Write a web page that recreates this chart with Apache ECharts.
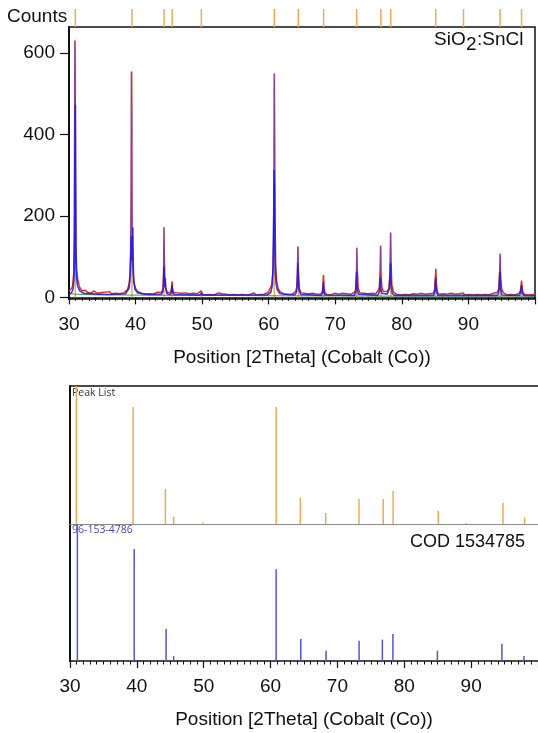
<!DOCTYPE html>
<html>
<head>
<meta charset="utf-8">
<script src="https://cdn.jsdelivr.net/npm/echarts@6/dist/echarts.min.js"></script>
<style>
  body { margin: 0; background: #fff; }
  #xrd { width: 538px; height: 733px; }
</style>
</head>
<body>
<div id="xrd"></div>
<script>
// peak positions (2theta) from the peak list
const peakPos = [30.95, 39.45, 44.27, 45.5, 49.88, 60.84, 64.45, 68.24, 73.22, 76.85, 78.33, 85.08, 89.26, 94.76, 97.98]
// measured peak heights (counts) in the top plot
const peakCounts = [633, 555, 172, 39, 16, 548, 125, 55, 122, 127, 159, 70, 11, 107, 41]
// relative intensities of the peak list panel
const peakRel = [100, 84.8, 25.4, 5.3, 1.1, 84.8, 18.8, 8, 18.1, 18.1, 23.9, 9.4, 0.7, 15.4, 4.6]
// reference pattern COD 1534785
const codPos = [31.1, 39.6, 44.37, 45.5, 50.0, 60.83, 64.52, 68.3, 73.24, 76.72, 78.3, 84.95, 94.6, 97.9]
const codRel = [100, 81.8, 23.4, 3.6, 0.7, 67, 16, 7.5, 14.8, 15.6, 19.7, 7.5, 12.6, 3.6]
const xTicks = [30, 40, 50, 60, 70, 80, 90]
const yTicks = [0, 200, 400, 600]

// observed scan
const observed = [
  [30.0, 16], [30.2, 18], [30.4, 22], [30.55, 30], [30.7, 60], [30.78, 168], [30.84, 420], [30.88, 630], [30.93, 560], [30.98, 300],
  [31.05, 130], [31.15, 70], [31.3, 45], [31.5, 30], [31.7, 22], [31.9, 17], [32.2, 14], [32.5, 17], [32.8, 12], [33.1, 15],
  [33.4, 11], [33.7, 16], [34.0, 13], [34.3, 10], [34.6, 14], [34.9, 12], [35.2, 9], [35.5, 13], [35.8, 11], [36.1, 14],
  [36.4, 9], [36.7, 12], [37.0, 10], [37.3, 13], [37.6, 9], [37.9, 12], [38.2, 11], [38.5, 15], [38.8, 20], [39.0, 32],
  [39.15, 55], [39.25, 120], [39.32, 270], [39.37, 555], [39.42, 480], [39.48, 200], [39.55, 90], [39.65, 55], [39.8, 35], [40.0, 22],
  [40.3, 15], [40.6, 12], [40.9, 9], [41.2, 12], [41.5, 8], [41.8, 11], [42.1, 9], [42.4, 12], [42.7, 8], [43.0, 10],
  [43.3, 13], [43.6, 9], [43.9, 12], [44.1, 22], [44.2, 60], [44.26, 172], [44.32, 110], [44.4, 45], [44.55, 22], [44.8, 12],
  [45.05, 10], [45.25, 13], [45.38, 20], [45.47, 39], [45.54, 24], [45.7, 12], [46.0, 8], [46.3, 11], [46.6, 7], [46.9, 10],
  [47.2, 8], [47.5, 11], [47.8, 7], [48.1, 9], [48.4, 6], [48.7, 10], [49.0, 7], [49.3, 9], [49.6, 8], [49.85, 16],
  [50.05, 8], [50.3, 10], [50.6, 6], [50.9, 9], [51.2, 7], [51.5, 10], [51.8, 6], [52.1, 8], [52.4, 11], [52.7, 7],
  [53.0, 9], [53.3, 6], [53.6, 8], [53.9, 10], [54.2, 6], [54.5, 9], [54.8, 7], [55.1, 10], [55.4, 6], [55.7, 8],
  [56.0, 7], [56.3, 10], [56.6, 6], [56.9, 9], [57.2, 7], [57.5, 8], [57.8, 11], [58.1, 6], [58.4, 9], [58.7, 7],
  [59.0, 10], [59.3, 8], [59.6, 11], [59.9, 12], [60.2, 16], [60.45, 30], [60.6, 60], [60.72, 146], [60.78, 281], [60.84, 550],
  [60.9, 400], [60.97, 180], [61.05, 80], [61.2, 40], [61.4, 22], [61.7, 14], [62.0, 10], [62.3, 8], [62.6, 11], [62.9, 7],
  [63.2, 9], [63.5, 8], [63.8, 11], [64.05, 14], [64.2, 25], [64.3, 60], [64.38, 125], [64.45, 70], [64.6, 22], [64.85, 11],
  [65.1, 8], [65.4, 10], [65.7, 6], [66.0, 9], [66.3, 7], [66.6, 10], [66.9, 6], [67.2, 8], [67.5, 9], [67.8, 8],
  [68.05, 14], [68.15, 25], [68.22, 55], [68.3, 25], [68.45, 12], [68.7, 7], [69.0, 9], [69.3, 6], [69.6, 8], [69.9, 10],
  [70.2, 6], [70.5, 8], [70.8, 7], [71.1, 10], [71.4, 6], [71.7, 9], [72.0, 7], [72.3, 8], [72.6, 10], [72.9, 12],
  [73.05, 20], [73.18, 60], [73.24, 122], [73.3, 75], [73.45, 22], [73.7, 11], [74.0, 8], [74.3, 10], [74.6, 7], [74.9, 9],
  [75.2, 6], [75.5, 10], [75.8, 8], [76.1, 9], [76.4, 12], [76.6, 22], [76.72, 65], [76.8, 127], [76.87, 60], [77.0, 25],
  [77.2, 15], [77.5, 12], [77.8, 14], [78.05, 22], [78.2, 60], [78.3, 159], [78.38, 90], [78.5, 30], [78.75, 13], [79.0, 9],
  [79.3, 7], [79.6, 10], [79.9, 6], [80.2, 8], [80.5, 7], [80.8, 10], [81.1, 6], [81.4, 8], [81.7, 9], [82.0, 6],
  [82.3, 8], [82.6, 7], [82.9, 10], [83.2, 6], [83.5, 8], [83.8, 7], [84.1, 9], [84.4, 7], [84.7, 10], [84.9, 18],
  [85.02, 45], [85.1, 70], [85.18, 35], [85.35, 13], [85.6, 8], [85.9, 6], [86.2, 9], [86.5, 6], [86.8, 8], [87.1, 7],
  [87.4, 10], [87.7, 6], [88.0, 8], [88.3, 6], [88.6, 9], [88.9, 7], [89.2, 11], [89.5, 6], [89.8, 8], [90.1, 7],
  [90.4, 9], [90.7, 6], [91.0, 8], [91.3, 7], [91.6, 10], [91.9, 6], [92.2, 8], [92.5, 7], [92.8, 9], [93.1, 6],
  [93.4, 8], [93.7, 10], [94.0, 9], [94.3, 12], [94.55, 20], [94.7, 70], [94.77, 107], [94.84, 55], [95.0, 20], [95.25, 11],
  [95.5, 8], [95.8, 6], [96.1, 9], [96.4, 7], [96.7, 8], [97.0, 6], [97.3, 9], [97.6, 10], [97.8, 16], [97.92, 30],
  [97.98, 41], [98.05, 25], [98.2, 12], [98.5, 7], [98.8, 9], [99.1, 6], [99.4, 8], [99.7, 7], [100, 8]
]

// calculated profile
const calculated = [
  [30.0, 7], [30.4, 12], [30.6, 20], [30.75, 45], [30.84, 120], [30.9, 300], [30.96, 473], [31.0, 260], [31.05, 90], [31.1, 63],
  [31.16, 45], [31.3, 28], [31.6, 16], [32.2, 10], [34.0, 8], [36.0, 7], [38.5, 9], [39.0, 22], [39.15, 40], [39.28, 90],
  [39.36, 150], [39.45, 130], [39.52, 90], [39.58, 172], [39.64, 90], [39.72, 40], [39.9, 20], [40.3, 11], [42.0, 7], [43.9, 8],
  [44.1, 14], [44.2, 30], [44.26, 76], [44.32, 35], [44.4, 25], [44.46, 48], [44.52, 22], [44.7, 9], [45.2, 7], [45.38, 12],
  [45.47, 30], [45.55, 14], [45.75, 7], [49.7, 6], [49.88, 11], [50.05, 6], [59.8, 6], [60.3, 12], [60.55, 30], [60.68, 80],
  [60.75, 200], [60.8, 313], [60.86, 270], [60.92, 146], [61.0, 60], [61.1, 35], [61.3, 18], [61.7, 9], [63.9, 6], [64.15, 12],
  [64.3, 35], [64.37, 85], [64.44, 45], [64.55, 18], [64.8, 7], [67.9, 5], [68.1, 12], [68.2, 38], [68.28, 15], [68.45, 6],
  [72.9, 5], [73.1, 15], [73.2, 63], [73.28, 28], [73.45, 8], [76.4, 5], [76.65, 16], [76.76, 48], [76.84, 20], [77.0, 10],
  [77.8, 8], [78.1, 20], [78.25, 55], [78.3, 84], [78.37, 35], [78.55, 10], [78.9, 5], [84.8, 5], [84.98, 18], [85.08, 49],
  [85.16, 18], [85.4, 5], [94.4, 5], [94.6, 18], [94.72, 63], [94.8, 25], [95.0, 6], [97.7, 5], [97.9, 18], [97.97, 30],
  [98.05, 12], [98.3, 5], [100, 4]
]

// background
const background = [[30, 9], [32, 7], [36, 6], [45, 5], [60, 4], [80, 3], [100, 3]]

const orange = '#f0a955'
const fontArial = 'Liberation Sans, Arial, sans-serif'

let chart = echarts.init(document.getElementById('xrd'))

// x axis with major ticks every 10 and minor every 1
function bottomAxis(grid, max) {
  return {
    gridIndex: grid,
    type: 'value',
    min: 30,
    max: max,
    interval: 10,
    axisLine: { lineStyle: { color: '#111', width: 1.5 } },
    axisTick: { length: 7, lineStyle: { color: '#111', width: 1.2 } },
    minorTick: { show: true, splitNumber: 10, length: 3.5, lineStyle: { color: '#111', width: 1 } },
    axisLabel: { color: '#111', fontSize: 19, fontFamily: fontArial, margin: 16, customValues: xTicks },
    splitLine: { show: false },
    name: 'Position [2Theta] (Cobalt (Co))',
    nameLocation: 'middle',
    nameGap: 49,
    nameTextStyle: { color: '#111', fontSize: 19, fontFamily: fontArial }
  }
}

function sticks(name, grid, pos, val, color) {
  return {
    name: name,
    type: 'bar',
    xAxisIndex: grid,
    yAxisIndex: grid,
    barWidth: 1.5,
    itemStyle: { color: color },
    silent: true,
    data: pos.map((p, i) => [p, val[i]])
  }
}

let option = {
  animation: false,
  grid: [
    { left: 69, top: 27, width: 466, height: 272, show: true, borderColor: '#111', borderWidth: 1.5 },
    { left: 69, top: 9, width: 466, height: 18 },
    { left: 70, top: 386, width: 474, height: 138 },
    { left: 70, top: 524, width: 474, height: 137 }
  ],
  xAxis: [
    bottomAxis(0, 100),
    { gridIndex: 1, type: 'value', min: 30, max: 100, show: false },
    {
      gridIndex: 2, type: 'value', min: 30, max: 100,
      axisLine: { lineStyle: { color: '#8a8a8a', width: 1 } },
      axisTick: { show: false }, axisLabel: { show: false }, splitLine: { show: false }
    },
    bottomAxis(3, 100),
    {
      gridIndex: 2, type: 'value', min: 30, max: 100, position: 'top',
      axisLine: { lineStyle: { color: '#111', width: 1.5 } },
      axisTick: { show: false }, axisLabel: { show: false }, splitLine: { show: false }
    }
  ],
  yAxis: [
    {
      gridIndex: 0, type: 'value', min: -4, max: 664,
      axisLine: { show: true, lineStyle: { color: '#111', width: 2 } },
      axisTick: { show: true, length: 9, customValues: yTicks, lineStyle: { color: '#111', width: 1.2 } },
      axisLabel: { customValues: yTicks, color: '#111', fontSize: 19, fontFamily: fontArial, margin: 14 },
      splitLine: { show: false }
    },
    { gridIndex: 1, type: 'value', min: 0, max: 1, show: false },
    {
      gridIndex: 2, type: 'value', min: 0, max: 100,
      axisLine: { show: true, lineStyle: { color: '#111', width: 2 } },
      axisTick: { show: false }, axisLabel: { show: false }, splitLine: { show: false }
    },
    {
      gridIndex: 3, type: 'value', min: 0, max: 100,
      axisLine: { show: true, lineStyle: { color: '#111', width: 2 } },
      axisTick: { show: false }, axisLabel: { show: false }, splitLine: { show: false }
    }
  ],
  // peak tops of the scan look purple, the noise red
  visualMap: {
    show: false,
    type: 'piecewise',
    seriesIndex: 2,
    dimension: 1,
    pieces: [
      { min: -10, max: 60, color: '#dc2a1c' },
      { min: 60, max: 1000, color: '#8b3f92' }
    ]
  },
  series: [
    sticks('Peak positions', 0, peakPos, peakCounts, orange),
    {
      name: 'Background', type: 'line', xAxisIndex: 0, yAxisIndex: 0,
      symbol: 'none', lineStyle: { color: '#3d9a3d', width: 1 }, data: background
    },
    {
      name: 'Observed', type: 'line', xAxisIndex: 0, yAxisIndex: 0,
      symbol: 'none', lineStyle: { width: 1.4 }, data: observed
    },
    {
      name: 'Calculated', type: 'line', xAxisIndex: 0, yAxisIndex: 0,
      symbol: 'none', lineStyle: { color: '#1717e8', width: 1.6, opacity: 0.85 }, data: calculated
    },
    sticks('Markers', 1, peakPos, peakPos.map(() => 1), orange),
    sticks('Peak List', 2, peakPos, peakRel, orange),
    sticks('COD 1534785', 3, codPos, codRel, '#5555cc')
  ],
  graphic: [
    { type: 'text', left: 7, top: 7, style: { text: 'Counts', fontSize: 19, fontFamily: fontArial, fill: '#111' } },
    { type: 'text', left: 434, top: 30, style: { text: 'SiO', fontSize: 19, fontFamily: fontArial, fill: '#111' } },
    { type: 'text', left: 466, top: 35, style: { text: '2', fontSize: 19, fontFamily: fontArial, fill: '#111' } },
    { type: 'text', left: 477, top: 30, style: { text: ':SnCl', fontSize: 19, fontFamily: fontArial, fill: '#111' } },
    { type: 'text', left: 72, top: 388, style: { text: 'Peak List', fontSize: 10.5, fontFamily: 'Open Sans, sans-serif', fill: '#333' } },
    { type: 'text', left: 72, top: 525, style: { text: '96-153-4786', fontSize: 10.5, fontFamily: 'Open Sans, sans-serif', fill: '#4848c8' } },
    { type: 'text', left: 410, top: 533, style: { text: 'COD 1534785', fontSize: 18, fontFamily: fontArial, fill: '#111' } }
  ]
}
chart.setOption(option)
</script>
</body>
</html>
